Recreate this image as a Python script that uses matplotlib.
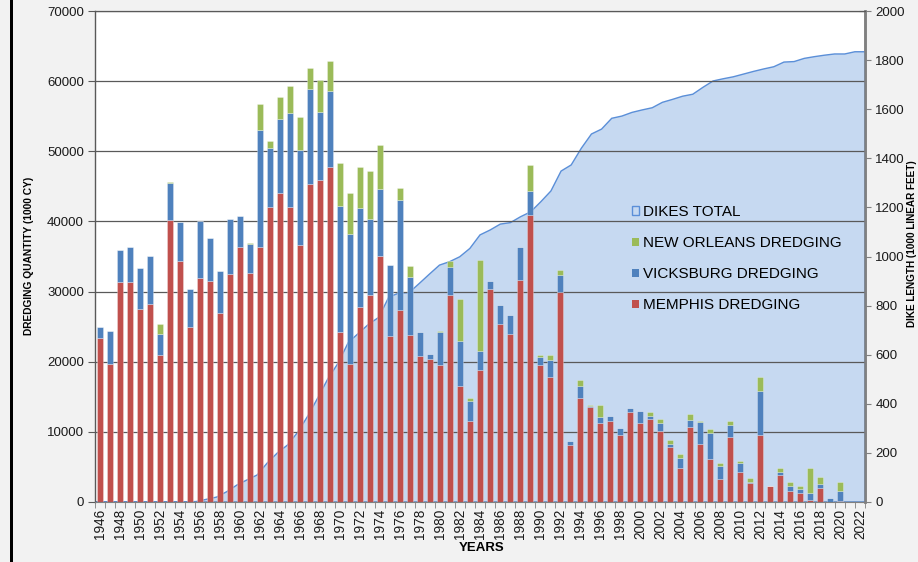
import numpy as np
import matplotlib
matplotlib.use("Agg")
import matplotlib.pyplot as plt
from matplotlib.patches import Patch, Rectangle

plt.rcParams['font.family'] = ['Liberation Sans', 'DejaVu Sans']

years = list(range(1946, 2023))

memphis = [23400, 19700, 31400, 31300, 27500, 28200, 21000, 40200, 34400, 24900,
           32000, 31500, 26900, 32500, 36400, 32700, 36300, 42000, 44100, 42000,
           36600, 45400, 45900, 47800, 24200, 19700, 27800, 29500, 35100, 23700,
           27400, 23800, 20800, 20400, 19500, 29500, 16600, 11500, 18800, 30400,
           25400, 24000, 31700, 40900, 19500, 17800, 29900, 8100, 14800, 13500,
           11200, 11500, 9600, 12800, 11300, 11800, 10100, 7900, 4900, 10700,
           8300, 6200, 3300, 9200, 4300, 2700, 9500, 2300, 3900, 1500,
           1300, 250, 2000, 50, 200, 0, 0]

vicksburg = [1600, 4700, 4500, 5100, 5800, 6900, 2900, 5300, 5500, 5500,
             8000, 6100, 6000, 7800, 4400, 4100, 16800, 8500, 10500, 13400,
             13600, 13500, 9700, 10800, 18000, 18500, 14100, 10800, 9500, 10100,
             15600, 8300, 3400, 700, 4700, 4000, 6300, 2900, 2700, 1100,
             2700, 2700, 4700, 3400, 1200, 2400, 2500, 600, 1800, 200,
             900, 800, 900, 600, 1700, 500, 1200, 400, 1400, 1000,
             3100, 3600, 1900, 1800, 1300, 100, 6300, 0, 400, 800,
             500, 1100, 500, 500, 1400, 0, 0]

new_orleans = [0, 0, 0, 0, 0, 0, 1500, 100, 0, 0,
               0, 0, 0, 0, 0, 100, 3600, 900, 3200, 3900,
               4700, 3000, 4500, 4300, 6200, 5800, 5900, 6900, 6300, 0,
               1800, 1600, 0, 0, 150, 900, 6000, 400, 13000, 0,
               0, 0, 0, 3800, 200, 700, 700, 0, 800, 200,
               1800, 0, 0, 0, 0, 500, 600, 600, 500, 900,
               150, 600, 300, 500, 300, 600, 2000, 0, 500, 550,
               500, 3550, 1100, 0, 1250, 0, 0]

dikes_total = [0, 0, 0, 0, 0, 0, 0, 0, 0, 0,
               2, 11, 20, 42, 69, 90, 110, 159, 200, 232,
               284, 350, 425, 503, 566, 650, 687, 724, 752, 835,
               851, 853, 890, 928, 965, 979, 999, 1033, 1088, 1108,
               1132, 1138, 1162, 1182, 1223, 1267, 1348, 1373, 1441, 1499,
               1519, 1563, 1572, 1587, 1597, 1606, 1628, 1640, 1653, 1661,
               1689, 1715, 1724, 1732, 1743, 1754, 1764, 1773, 1792, 1794,
               1807, 1814, 1820, 1825, 1825, 1834, 1834]

RED = '#c0504d'
BLUE = '#4f81bd'
GREEN = '#9bbb59'
AREA = '#c6d9f1'
AREA_EDGE = '#5b8fd8'
GRID = '#595959'

n = len(years)
x = np.arange(n)
mem = np.array(memphis, float)
vic = np.array(vicksburg, float)
nol = np.array(new_orleans, float)
dk = np.array(dikes_total, float)
scale = 70000 / 2000.0

fig = plt.figure(figsize=(9.18, 5.62), dpi=100, facecolor='#f2f2f2')
W, H = 918, 562
ax = fig.add_axes([95 / W, 1 - 502 / H, (865 - 95) / W, (502 - 11) / H])
ax.set_facecolor('white')

# area on secondary category positioning (spans full width)
xa = np.linspace(-0.5, n - 0.5, n)
ax.fill(np.r_[xa, xa[-1], xa[0]], np.r_[dk * scale, 0, 0],
        facecolor=AREA, edgecolor=AREA_EDGE, lw=1.0, zorder=1)

bw = 0.66
ec = (1, 1, 1, 0.5)
ax.bar(x, mem, width=bw, color=RED, edgecolor=ec, lw=0.4, zorder=2)
ax.bar(x, vic, width=bw, bottom=mem, color=BLUE, edgecolor=ec, lw=0.4, zorder=2)
ax.bar(x, nol, width=bw, bottom=mem + vic, color=GREEN, edgecolor=ec, lw=0.4, zorder=2)

ax.set_xlim(-0.5, n - 0.5)
ax.set_ylim(0, 70000)
ax.set_yticks(np.arange(0, 70001, 10000))
ax.tick_params(axis='y', direction='out', length=5, color=GRID, labelsize=9.5,
               labelcolor='#1a1a1a', pad=3)
ax.yaxis.grid(True, color=GRID, lw=0.9)
ax.set_axisbelow('line')

ax.set_xticks(x[::2])
ax.set_xticklabels([str(y) for y in years[::2]], rotation=90, fontsize=9.8,
                   color='#1a1a1a')
ax.tick_params(axis='x', which='major', length=0, pad=5)
ax.set_xticks(np.arange(-0.5, n, 1), minor=True)
ax.tick_params(axis='x', which='minor', direction='out', length=4, color='#808080')

ax.spines['left'].set_color(GRID)
ax.spines['left'].set_linewidth(1.0)
ax.spines['top'].set_color(GRID)
ax.spines['top'].set_linewidth(0.9)
ax.spines['bottom'].set_color('#808080')
ax.spines['right'].set_color('#808080')
ax.spines['right'].set_linewidth(1.8)

sec = ax.secondary_yaxis('right', functions=(lambda v: v / scale, lambda v: v * scale))
sec.set_yticks(np.arange(0, 2001, 200))
sec.tick_params(direction='inout', length=9, color='#808080', labelsize=9.5,
                labelcolor='#1a1a1a', pad=3)
sec.spines['right'].set_color('#808080')
sec.spines['right'].set_linewidth(1.8)

ax.set_ylabel('DREDGING QUANTITY (1000 CY)', fontsize=7.4, fontweight='bold')
ax.yaxis.set_label_coords((34 - 95) / (865 - 95), (502 - 256) / 491)
fig.text(482 / W, 1 - 548 / H, 'YEARS', fontsize=9.5, fontweight='bold',
         ha='center', va='center')
fig.text(912 / W, 1 - 244 / H, 'DIKE LENGTH (1000 LINEAR FEET)', fontsize=7.2,
         fontweight='bold', rotation=90, ha='center', va='center')

handles = [Patch(facecolor=AREA, edgecolor=AREA_EDGE, lw=1.0),
           Patch(facecolor=GREEN), Patch(facecolor=BLUE), Patch(facecolor=RED)]
labels = ['DIKES TOTAL', 'NEW ORLEANS DREDGING', 'VICKSBURG DREDGING', 'MEMPHIS DREDGING']
fig.legend(handles, labels, loc='upper left', bbox_to_anchor=(632 / W, 1 - 205 / H),
           frameon=False, fontsize=11, handlelength=0.45, handleheight=0.45,
           handletextpad=0.25, labelspacing=1.12, borderpad=0, borderaxespad=0)

# left black border of the screenshot
fig.add_artist(Rectangle((9.5 / W, 0), 3.5 / W, 1, transform=fig.transFigure,
                         facecolor='black', edgecolor='none'))

fig.savefig('out.png', dpi=100, facecolor=fig.get_facecolor())
